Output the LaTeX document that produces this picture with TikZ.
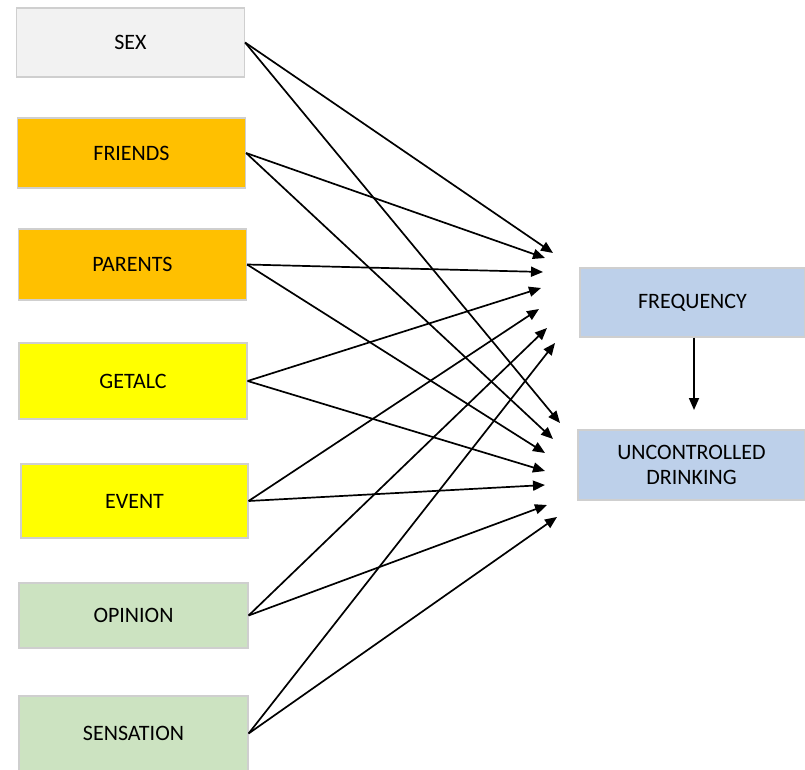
\documentclass[tikz,border=0pt]{standalone}
\usepackage{fontspec}
\setmainfont{Carlito}
\usetikzlibrary{arrows.meta,positioning}
\definecolor{greybox}{HTML}{F2F2F2}
\definecolor{orangebox}{HTML}{FFC000}
\definecolor{yellowbox}{HTML}{FFFF00}
\definecolor{greenbox}{HTML}{CCE3C1}
\definecolor{bluebox}{HTML}{BDD0EA}
\definecolor{edgegrey}{HTML}{CFCFCF}

\begin{document}
\begin{tikzpicture}[x=1pt,y=-1pt,
    var/.style={draw=edgegrey,line width=1.2pt,minimum width=228pt,align=center,
      font=\fontsize{22}{25}\selectfont,text=black,inner sep=0pt},
    arr/.style={-{Triangle[length=12pt,width=10pt]},line width=1.7pt}]
  \useasboundingbox (0,0) rectangle (805,770);
  % predictors
  \node[var,fill=greybox,minimum height=69pt] (sex) at (130.5,42.5) {SEX};
  \node[var,fill=orangebox,minimum height=70pt] (friends) at (131.5,153) {FRIENDS};
  \node[var,fill=orangebox,minimum height=71pt] (parents) at (132.5,264.5) {PARENTS};
  \node[var,fill=yellowbox,minimum height=76pt] (getalc) at (133,381) {GETALC};
  \node[var,fill=yellowbox,minimum height=74pt,minimum width=227pt] (event) at (134.5,501) {EVENT};
  \node[var,fill=greenbox,minimum height=65pt,minimum width=229pt] (opinion) at (133.5,615.5) {OPINION};
  \node[var,fill=greenbox,minimum height=75pt,minimum width=229pt] (sensation) at (133.5,733.5) {SENSATION};
  % outcomes
  \node[var,fill=bluebox,minimum height=69pt,minimum width=225pt] (freq) at (692.5,302.5) {FREQUENCY};
  \node[var,fill=bluebox,minimum height=70pt,minimum width=227pt] (unc) at (691.5,465) {UNCONTROLLED\\DRINKING};
  % arrow ends
  \coordinate (a1) at (553,253);
  \coordinate (a2) at (545,258);
  \coordinate (a3) at (543,272);
  \coordinate (a4) at (541,288);
  \coordinate (a5) at (539,309);
  \coordinate (a6) at (547,328);
  \coordinate (a7) at (555,343);
  \coordinate (b1) at (560,423);
  \coordinate (b2) at (553,439);
  \coordinate (b3) at (545,453);
  \coordinate (b4) at (545,471);
  \coordinate (b5) at (545,485);
  \coordinate (b6) at (547,505);
  \coordinate (b7) at (557,517);
  \coordinate (fu) at (694,410);
  \foreach \s/\p/\q in {sex/a1/b1,friends/a2/b2,parents/a3/b3,getalc/a4/b4,
      event/a5/b5,opinion/a6/b6,sensation/a7/b7}{
    \draw[arr] (\s.east) -- (\p);
    \draw[arr] (\s.east) -- (\q);
  }
  \draw[arr] (freq.south -| fu) -- (fu);
\end{tikzpicture}
\end{document}
